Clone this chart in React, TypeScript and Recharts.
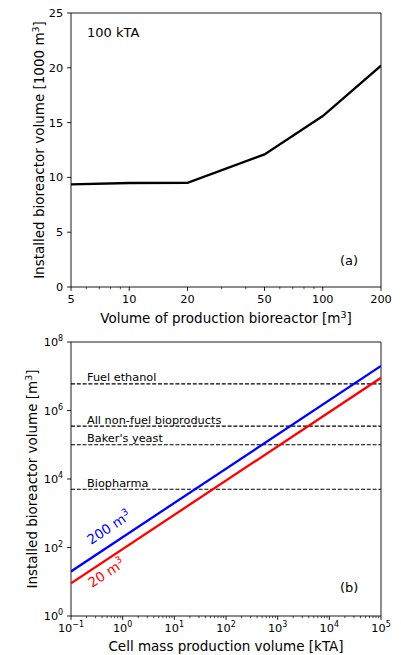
import React from 'react';
import { LineChart, Line, XAxis, YAxis, ReferenceLine, ReferenceArea } from 'recharts';

const FONT = '"DejaVu Sans", sans-serif';
const TICK_FS = 11.3;
const LABEL_FS = 13.5;

// (a) installed volume at 100 kTA vs. production bioreactor size
const reactorSizes = [5, 10, 20, 50, 100, 200];
const installedK = [9.37, 9.49, 9.5, 12.1, 15.6, 20.2];
const sizeTicks = [5, 10, 20, 50, 100, 200];
const sizeMinorTicks = [6, 7, 8, 9, 30, 40, 60, 70, 80, 90];
const installedTicks = [0, 5, 10, 15, 20, 25];

// (b) installed volume vs. cell mass production
const massKTA = [0.1, 100000];
const installed200 = [20, 2e7];
const installed20 = [9, 9e6];
const massTicks = [0.1, 1, 10, 100, 1000, 10000, 100000];
const volTicks = [1, 100, 10000, 1000000, 100000000];
const benchmarkNames = ['Fuel ethanol', 'All non-fuel bioproducts', "Baker's yeast", 'Biopharma'];
const benchmarkVolumes = [6e6, 3.5e5, 1e5, 5e3];

const massMinorTicks: number[] = [];
massTicks.slice(0, -1).forEach((d) => {
  for (let k = 2; k <= 9; k++) massMinorTicks.push(d * k);
});

const sizeData = reactorSizes.map((s, i) => ({ s, v: installedK[i] }));
const massData = massKTA.map((m, i) => ({ m, big: installed200[i], small: installed20[i] }));

const Pow = ({ v }: { v: number }) => {
  const e = Math.round(Math.log10(v));
  return (
    <>
      <tspan>10</tspan>
      <tspan dy={-5} fontSize={8}>{e < 0 ? '\u2212' + -e : String(e)}</tspan>
    </>
  );
};

const XTick = ({ x, y, payload, majors, pow }: any) => {
  const v = payload.value;
  const major = majors.includes(v);
  return (
    <g>
      <line x1={x} x2={x} y1={y} y2={y + (major ? 3.9 : 2.2)} stroke="#000" strokeWidth={major ? 0.9 : 0.7} />
      {major && (
        <text x={x} y={y + 16} textAnchor="middle" fontSize={TICK_FS} fontFamily={FONT} fill="#000">
          {pow ? <Pow v={v} /> : v}
        </text>
      )}
    </g>
  );
};

const YTick = ({ x, y, payload, pow }: any) => {
  const v = payload.value;
  return (
    <g>
      <line x1={x - 3.9} x2={x} y1={y} y2={y} stroke="#000" strokeWidth={0.9} />
      <text x={x - 7.8} y={y + 4} textAnchor="end" fontSize={TICK_FS} fontFamily={FONT} fill="#000">
        {pow ? <Pow v={v} /> : v}
      </text>
    </g>
  );
};

const Sup = ({ children }: { children: React.ReactNode }) => (
  <tspan dy={-5.5} fontSize={9.5}>{children}</tspan>
);

export default function App() {
  return (
    <div style={{ position: 'absolute', left: 0, top: 0, width: 401, height: 655, background: '#fff' }}>
      <LineChart width={401} height={330} data={sizeData} margin={{ top: 13, right: 20, bottom: 0, left: 0 }}>
        <XAxis
          dataKey="s"
          type="number"
          scale="log"
          domain={[5, 200]}
          allowDataOverflow
          ticks={[...sizeTicks, ...sizeMinorTicks]}
          interval={0}
          tickSize={0}
          tickMargin={0}
          axisLine={false}
          tickLine={false}
          height={43}
          tick={<XTick majors={sizeTicks} />}
        />
        <YAxis
          type="number"
          domain={[0, 25]}
          ticks={installedTicks}
          interval={0}
          tickSize={0}
          tickMargin={0}
          axisLine={false}
          tickLine={false}
          width={71}
          tick={<YTick />}
        />
        <ReferenceArea x1={5} x2={200} y1={0} y2={25} fill="none" stroke="#000" strokeWidth={0.9} />
        <Line dataKey="v" stroke="#000" strokeWidth={2.3} dot={false} isAnimationActive={false} />
        <text x={87} y={37} fontSize={13} fontFamily={FONT} fill="#000">100 kTA</text>
        <text x={340} y={264.5} fontSize={13} fontFamily={FONT} fill="#000">(a)</text>
        <text x={226} y={323} textAnchor="middle" fontSize={LABEL_FS} fontFamily={FONT} fill="#000">
          Volume of production bioreactor [m<Sup>3</Sup>
          <tspan dy={5.5}>]</tspan>
        </text>
        <text transform="translate(44,150) rotate(-90)" textAnchor="middle" fontSize={LABEL_FS} fontFamily={FONT} fill="#000">
          Installed bioreactor volume [1000 m<Sup>3</Sup>
          <tspan dy={5.5}>]</tspan>
        </text>
      </LineChart>

      <LineChart width={401} height={325} data={massData} margin={{ top: 12, right: 20, bottom: 0, left: 0 }}>
        <XAxis
          dataKey="m"
          type="number"
          scale="log"
          domain={[0.1, 100000]}
          allowDataOverflow
          ticks={[...massTicks, ...massMinorTicks]}
          interval={0}
          tickSize={0}
          tickMargin={0}
          axisLine={false}
          tickLine={false}
          height={39}
          tick={<XTick majors={massTicks} pow />}
        />
        <YAxis
          type="number"
          scale="log"
          domain={[1, 100000000]}
          allowDataOverflow
          ticks={volTicks}
          interval={0}
          tickSize={0}
          tickMargin={0}
          axisLine={false}
          tickLine={false}
          width={71}
          tick={<YTick pow />}
        />
        {benchmarkVolumes.map((v, i) => (
          <ReferenceLine
            key={benchmarkNames[i]}
            y={v}
            stroke="#000"
            strokeWidth={1.1}
            strokeDasharray="4 1.8"
            label={{
              content: (p: any) => (
                <text x={p.viewBox.x + 16} y={p.viewBox.y - 2.5} fontSize={TICK_FS} fontFamily={FONT} fill="#000">
                  {benchmarkNames[i]}
                </text>
              ),
            }}
          />
        ))}
        <ReferenceArea x1={0.1} x2={100000} y1={1} y2={100000000} fill="none" stroke="#000" strokeWidth={0.9} />
        <Line dataKey="big" stroke="#0000ff" strokeWidth={2.3} dot={false} isAnimationActive={false} />
        <Line dataKey="small" stroke="#ff0000" strokeWidth={2.3} dot={false} isAnimationActive={false} />
        <text transform="translate(91,215) rotate(-33.5)" fontSize={LABEL_FS} fontFamily={FONT} fill="#0000ff">
          200 m<Sup>3</Sup>
        </text>
        <text transform="translate(92,258) rotate(-33.5)" fontSize={LABEL_FS} fontFamily={FONT} fill="#ff0000">
          20 m<Sup>3</Sup>
        </text>
        <text x={340} y={262} fontSize={13} fontFamily={FONT} fill="#000">(b)</text>
        <text x={226} y={321} textAnchor="middle" fontSize={LABEL_FS} fontFamily={FONT} fill="#000">
          Cell mass production volume [kTA]
        </text>
        <text transform="translate(37,149) rotate(-90)" textAnchor="middle" fontSize={LABEL_FS} fontFamily={FONT} fill="#000">
          Installed bioreactor volume [m<Sup>3</Sup>
          <tspan dy={5.5}>]</tspan>
        </text>
      </LineChart>
    </div>
  );
}
